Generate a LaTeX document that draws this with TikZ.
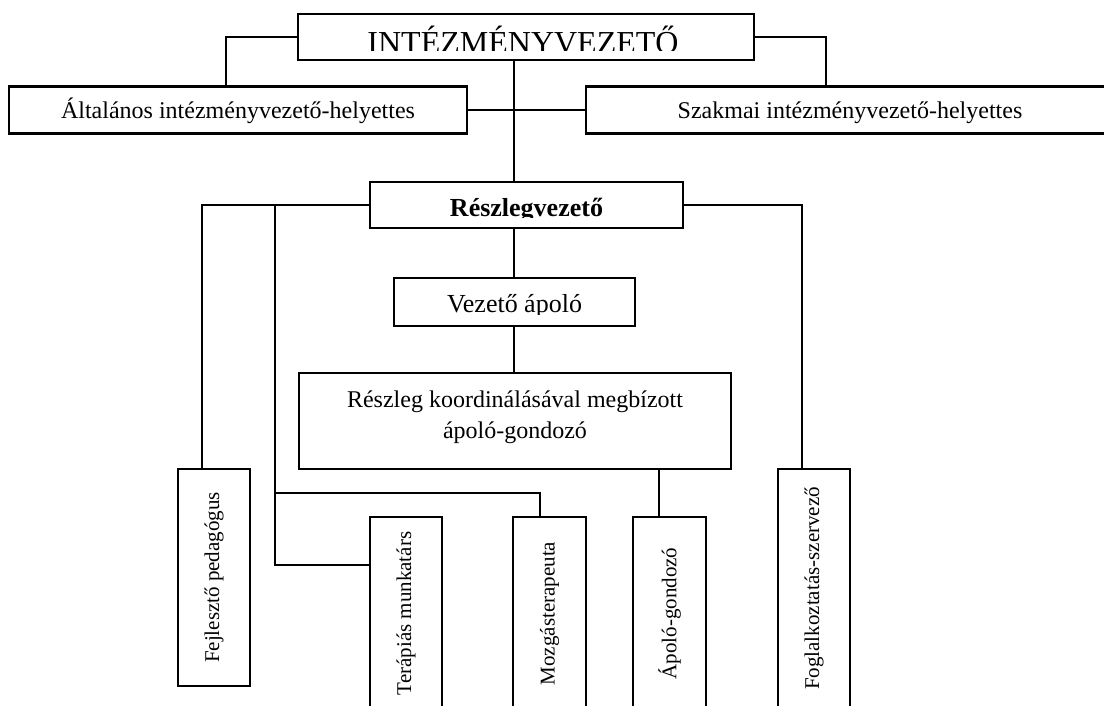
\documentclass[tikz,border=0pt]{standalone}
\usepackage{fontspec}
\setmainfont{Liberation Serif}
\usepackage{graphicx}
\usepackage{tikz}
\usetikzlibrary{calc}
\newcommand{\orgtxt}{\fontsize{24}{31}\selectfont}
\newcommand{\orghead}{\fontsize{32}{36}\selectfont}
\newcommand{\orgmid}{\fontsize{26}{30}\selectfont}
\newcommand{\orgside}{\fontsize{21}{24}\selectfont}
\tikzset{
  unitbox/.style={draw, line width=2.2pt, inner sep=0pt, outer sep=0pt, align=center, font=\orgtxt},
  wide/.style={text height=20pt, text depth=2pt},
  link/.style={line width=1.8pt},
  cliptext/.style n args={4}{path picture={
    \clip (path picture bounding box.north west) rectangle ([yshift=#2]path picture bounding box.south east);
    \node[anchor=base, inner sep=0pt] at ([xshift=#3, yshift=-#1]path picture bounding box.north) {#4};}},
}

\begin{document}
\begin{tikzpicture}[x=1pt, y=-1pt]
\clip (0,0) rectangle (1104,706);

% top level
\node[unitbox, minimum width=456pt, minimum height=46pt,
  cliptext={40pt}{9pt}{-3pt}{\orghead INTÉZMÉNYVEZETŐ}] (head) at (526,37) {};
\node[unitbox, wide, minimum width=458pt, minimum height=47pt] (gen) at (238,110) {Általános intézményvezető-helyettes};
\node[unitbox, wide, minimum width=528pt, minimum height=47pt] (prof) at (850,110) {Szakmai intézményvezető-helyettes};

% middle level
\node[unitbox, minimum width=313pt, minimum height=46pt,
  cliptext={35pt}{10pt}{0pt}{\orgmid\bfseries Részlegvezető}] (unit) at (526.5,205) {};
\node[unitbox, minimum width=241pt, minimum height=48pt,
  cliptext={34.5pt}{11.5pt}{0pt}{\orgmid Vezető ápoló}] (chief) at (514.5,302) {};
\node[unitbox, text depth=13pt, minimum width=432pt, minimum height=96pt] (coord) at (515,421) {Részleg koordinálásával megbízott\\ápoló-gondozó};

% staff, written upwards
\node[unitbox, minimum width=72pt, minimum height=217pt] (fejl) at (214,577.5) {\rotatebox{90}{\orgside Fejlesztő pedagógus}};
\node[unitbox, minimum width=72pt, minimum height=193pt] (ter) at (406,613.5) {\rotatebox{90}{\orgside Terápiás munkatárs}};
\node[unitbox, minimum width=73pt, minimum height=193pt] (mozg) at (549.5,613.5) {\rotatebox{90}{\orgside Mozgásterapeuta}};
\node[unitbox, minimum width=73pt, minimum height=193pt] (apolo) at (669.5,613.5) {\rotatebox{90}{\orgside Ápoló-gondozó}};
\node[unitbox, minimum width=72pt, minimum height=239pt] (fogl) at (814,588.5) {\rotatebox{90}{\orgside Foglalkoztatás-szervező}};

% elbows of the connectors
\coordinate (trunk) at (514,0);
\coordinate (gl) at (226,37);
\coordinate (gr) at (826,37);
\coordinate (ul) at (202,205);
\coordinate (um) at (275,205);
\coordinate (ur) at (802,205);
\coordinate (tl) at (275,565);
\coordinate (mz) at (540,493);
\coordinate (ap) at (659,0);

\draw[link] (head.west) -- (gl) -- (gl |- gen.north);
\draw[link] (head.east) -- (gr) -- (gr |- prof.north);
\draw[link] (gen.east) -- (prof.west);
\draw[link] (trunk |- head.south) -- (trunk |- unit.north);
\draw[link] (trunk |- unit.south) -- (trunk |- chief.north);
\draw[link] (trunk |- chief.south) -- (trunk |- coord.north);
\draw[link] (unit.west) -- (ul) -- (ul |- fejl.north);
\draw[link] (um) -- (tl) -- (tl -| ter.west);
\draw[link] (um |- mz) -- (mz) -- (mz |- mozg.north);
\draw[link] (unit.east) -- (ur) -- (ur |- fogl.north);
\draw[link] (ap |- coord.south) -- (ap |- apolo.north);

\end{tikzpicture}
\end{document}
